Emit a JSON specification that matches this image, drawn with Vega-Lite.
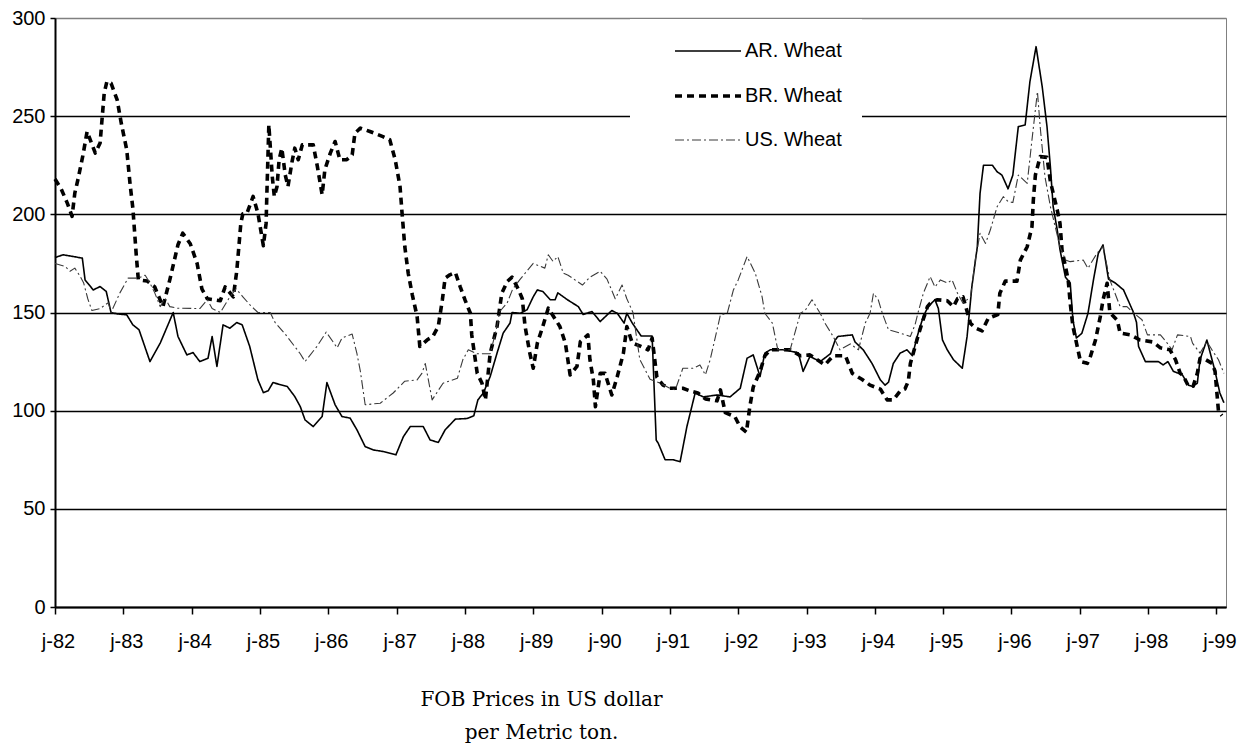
{
"$schema": "https://vega.github.io/schema/vega-lite/v6.json",
"width": 1171, "height": 589,
"autosize": {"type": "none"},
"padding": {"left": 55, "top": 18, "right": 25, "bottom": 143},
"background": "white",
"config": {
  "view": {"stroke": "#808080", "strokeWidth": 1},
  "font": "Liberation Sans",
  "axis": {"labelFont": "Liberation Sans", "labelFontSize": 20, "labelColor": "black", "domainColor": "black", "tickColor": "black"},
  "legend": {"orient": "none", "legendX": 575, "legendY": 1, "padding": 20, "fillColor": "white", "symbolType": "M-3,0H3", "symbolSize": 484, "symbolOffset": 45, "labelOffset": 24, "rowPadding": 22, "labelFont": "Liberation Sans", "labelFontSize": 20, "labelColor": "black", "labelExpr": "datum.label + '_____'", "labelLimit": 200}
},
"datasets": {"d": [
{"s":"AR. Wheat","t":1982.00,"v":178},{"s":"AR. Wheat","t":1982.12,"v":179.4},{"s":"AR. Wheat","t":1982.40,"v":177.7},{"s":"AR. Wheat","t":1982.44,"v":166.6},{"s":"AR. Wheat","t":1982.56,"v":161.5},{"s":"AR. Wheat","t":1982.66,"v":163.2},{"s":"AR. Wheat","t":1982.75,"v":160.7},{"s":"AR. Wheat","t":1982.82,"v":150},{"s":"AR. Wheat","t":1982.91,"v":149.3},{"s":"AR. Wheat","t":1983.05,"v":148.8},{"s":"AR. Wheat","t":1983.14,"v":143.7},{"s":"AR. Wheat","t":1983.23,"v":141.2},{"s":"AR. Wheat","t":1983.39,"v":125},{"s":"AR. Wheat","t":1983.54,"v":134.4},{"s":"AR. Wheat","t":1983.73,"v":150},{"s":"AR. Wheat","t":1983.80,"v":137.8},{"s":"AR. Wheat","t":1983.93,"v":128.4},{"s":"AR. Wheat","t":1984.02,"v":129.6},{"s":"AR. Wheat","t":1984.12,"v":125},{"s":"AR. Wheat","t":1984.24,"v":126.7},{"s":"AR. Wheat","t":1984.30,"v":137.8},{"s":"AR. Wheat","t":1984.37,"v":122.5},{"s":"AR. Wheat","t":1984.46,"v":143.7},{"s":"AR. Wheat","t":1984.56,"v":142},{"s":"AR. Wheat","t":1984.66,"v":144.9},{"s":"AR. Wheat","t":1984.74,"v":143.7},{"s":"AR. Wheat","t":1984.85,"v":132.7},{"s":"AR. Wheat","t":1984.97,"v":115.7},{"s":"AR. Wheat","t":1985.05,"v":109.2},{"s":"AR. Wheat","t":1985.12,"v":110.1},{"s":"AR. Wheat","t":1985.19,"v":114.3},{"s":"AR. Wheat","t":1985.40,"v":112.3},{"s":"AR. Wheat","t":1985.51,"v":107.2},{"s":"AR. Wheat","t":1985.59,"v":102.1},{"s":"AR. Wheat","t":1985.66,"v":95.3},{"s":"AR. Wheat","t":1985.78,"v":91.9},{"s":"AR. Wheat","t":1985.91,"v":97},{"s":"AR. Wheat","t":1985.98,"v":114.3},{"s":"AR. Wheat","t":1986.10,"v":103},{"s":"AR. Wheat","t":1986.20,"v":97},{"s":"AR. Wheat","t":1986.32,"v":96.2},{"s":"AR. Wheat","t":1986.42,"v":90.2},{"s":"AR. Wheat","t":1986.54,"v":81.7},{"s":"AR. Wheat","t":1986.66,"v":80},{"s":"AR. Wheat","t":1986.80,"v":79.2},{"s":"AR. Wheat","t":1986.99,"v":77.5},{"s":"AR. Wheat","t":1987.10,"v":86.8},{"s":"AR. Wheat","t":1987.20,"v":91.9},{"s":"AR. Wheat","t":1987.39,"v":91.9},{"s":"AR. Wheat","t":1987.49,"v":85.1},{"s":"AR. Wheat","t":1987.61,"v":83.8},{"s":"AR. Wheat","t":1987.71,"v":90.2},{"s":"AR. Wheat","t":1987.86,"v":95.7},{"s":"AR. Wheat","t":1988.03,"v":96},{"s":"AR. Wheat","t":1988.13,"v":97.4},{"s":"AR. Wheat","t":1988.19,"v":105.5},{"s":"AR. Wheat","t":1988.27,"v":109},{"s":"AR. Wheat","t":1988.37,"v":117.4},{"s":"AR. Wheat","t":1988.47,"v":129.3},{"s":"AR. Wheat","t":1988.56,"v":139.5},{"s":"AR. Wheat","t":1988.66,"v":144.6},{"s":"AR. Wheat","t":1988.69,"v":150},{"s":"AR. Wheat","t":1988.81,"v":149.6},{"s":"AR. Wheat","t":1988.91,"v":151.4},{"s":"AR. Wheat","t":1989.00,"v":158},{"s":"AR. Wheat","t":1989.06,"v":161.5},{"s":"AR. Wheat","t":1989.14,"v":160.7},{"s":"AR. Wheat","t":1989.25,"v":156.5},{"s":"AR. Wheat","t":1989.32,"v":156.5},{"s":"AR. Wheat","t":1989.36,"v":160},{"s":"AR. Wheat","t":1989.50,"v":156.5},{"s":"AR. Wheat","t":1989.66,"v":153},{"s":"AR. Wheat","t":1989.73,"v":149},{"s":"AR. Wheat","t":1989.86,"v":150.5},{"s":"AR. Wheat","t":1989.98,"v":145.4},{"s":"AR. Wheat","t":1990.15,"v":151},{"s":"AR. Wheat","t":1990.23,"v":149.6},{"s":"AR. Wheat","t":1990.33,"v":144.6},{"s":"AR. Wheat","t":1990.37,"v":149.6},{"s":"AR. Wheat","t":1990.45,"v":144.6},{"s":"AR. Wheat","t":1990.58,"v":138},{"s":"AR. Wheat","t":1990.74,"v":138},{"s":"AR. Wheat","t":1990.80,"v":85},{"s":"AR. Wheat","t":1990.83,"v":83.4},{"s":"AR. Wheat","t":1990.93,"v":75},{"s":"AR. Wheat","t":1991.05,"v":75},{"s":"AR. Wheat","t":1991.15,"v":74},{"s":"AR. Wheat","t":1991.25,"v":92},{"s":"AR. Wheat","t":1991.37,"v":109},{"s":"AR. Wheat","t":1991.49,"v":107},{"s":"AR. Wheat","t":1991.69,"v":108},{"s":"AR. Wheat","t":1991.88,"v":107},{"s":"AR. Wheat","t":1992.03,"v":111.4},{"s":"AR. Wheat","t":1992.13,"v":126.7},{"s":"AR. Wheat","t":1992.22,"v":128.4},{"s":"AR. Wheat","t":1992.32,"v":117.4},{"s":"AR. Wheat","t":1992.39,"v":129.3},{"s":"AR. Wheat","t":1992.47,"v":131},{"s":"AR. Wheat","t":1992.66,"v":131},{"s":"AR. Wheat","t":1992.88,"v":129.5},{"s":"AR. Wheat","t":1992.95,"v":120},{"s":"AR. Wheat","t":1993.05,"v":127.6},{"s":"AR. Wheat","t":1993.20,"v":125},{"s":"AR. Wheat","t":1993.35,"v":129},{"s":"AR. Wheat","t":1993.42,"v":136},{"s":"AR. Wheat","t":1993.46,"v":137.8},{"s":"AR. Wheat","t":1993.67,"v":138.6},{"s":"AR. Wheat","t":1993.71,"v":135},{"s":"AR. Wheat","t":1993.83,"v":131},{"s":"AR. Wheat","t":1993.96,"v":124},{"s":"AR. Wheat","t":1994.08,"v":115.7},{"s":"AR. Wheat","t":1994.15,"v":113},{"s":"AR. Wheat","t":1994.20,"v":114.5},{"s":"AR. Wheat","t":1994.27,"v":124},{"s":"AR. Wheat","t":1994.37,"v":129.3},{"s":"AR. Wheat","t":1994.47,"v":131},{"s":"AR. Wheat","t":1994.55,"v":128},{"s":"AR. Wheat","t":1994.62,"v":137.8},{"s":"AR. Wheat","t":1994.71,"v":148},{"s":"AR. Wheat","t":1994.78,"v":153},{"s":"AR. Wheat","t":1994.88,"v":156.5},{"s":"AR. Wheat","t":1994.93,"v":152},{"s":"AR. Wheat","t":1994.99,"v":136},{"s":"AR. Wheat","t":1995.06,"v":131},{"s":"AR. Wheat","t":1995.15,"v":126},{"s":"AR. Wheat","t":1995.28,"v":121.6},{"s":"AR. Wheat","t":1995.35,"v":137.7},{"s":"AR. Wheat","t":1995.42,"v":163},{"s":"AR. Wheat","t":1995.50,"v":183.5},{"s":"AR. Wheat","t":1995.54,"v":210.7},{"s":"AR. Wheat","t":1995.59,"v":225},{"s":"AR. Wheat","t":1995.72,"v":225},{"s":"AR. Wheat","t":1995.79,"v":221.7},{"s":"AR. Wheat","t":1995.86,"v":220},{"s":"AR. Wheat","t":1995.95,"v":213},{"s":"AR. Wheat","t":1996.02,"v":220},{"s":"AR. Wheat","t":1996.10,"v":244.7},{"s":"AR. Wheat","t":1996.20,"v":245.5},{"s":"AR. Wheat","t":1996.27,"v":267.6},{"s":"AR. Wheat","t":1996.36,"v":285.4},{"s":"AR. Wheat","t":1996.45,"v":265},{"s":"AR. Wheat","t":1996.52,"v":244.7},{"s":"AR. Wheat","t":1996.57,"v":224},{"s":"AR. Wheat","t":1996.61,"v":204},{"s":"AR. Wheat","t":1996.67,"v":192},{"s":"AR. Wheat","t":1996.71,"v":182},{"s":"AR. Wheat","t":1996.79,"v":168},{"s":"AR. Wheat","t":1996.86,"v":165},{"s":"AR. Wheat","t":1996.90,"v":146},{"s":"AR. Wheat","t":1996.95,"v":137},{"s":"AR. Wheat","t":1997.03,"v":139.4},{"s":"AR. Wheat","t":1997.12,"v":149.6},{"s":"AR. Wheat","t":1997.20,"v":166.6},{"s":"AR. Wheat","t":1997.27,"v":180},{"s":"AR. Wheat","t":1997.34,"v":184.4},{"s":"AR. Wheat","t":1997.42,"v":167},{"s":"AR. Wheat","t":1997.52,"v":165},{"s":"AR. Wheat","t":1997.64,"v":161.5},{"s":"AR. Wheat","t":1997.78,"v":150.5},{"s":"AR. Wheat","t":1997.83,"v":145},{"s":"AR. Wheat","t":1997.86,"v":132.7},{"s":"AR. Wheat","t":1997.96,"v":125},{"s":"AR. Wheat","t":1998.15,"v":125},{"s":"AR. Wheat","t":1998.22,"v":123.3},{"s":"AR. Wheat","t":1998.29,"v":125},{"s":"AR. Wheat","t":1998.37,"v":120},{"s":"AR. Wheat","t":1998.50,"v":118.3},{"s":"AR. Wheat","t":1998.59,"v":113},{"s":"AR. Wheat","t":1998.65,"v":112.3},{"s":"AR. Wheat","t":1998.72,"v":114},{"s":"AR. Wheat","t":1998.76,"v":126},{"s":"AR. Wheat","t":1998.81,"v":131},{"s":"AR. Wheat","t":1998.86,"v":136},{"s":"AR. Wheat","t":1998.92,"v":128},{"s":"AR. Wheat","t":1998.98,"v":120},{"s":"AR. Wheat","t":1999.05,"v":109},{"s":"AR. Wheat","t":1999.11,"v":104},
{"s":"BR. Wheat","t":1982.00,"v":218},{"s":"BR. Wheat","t":1982.09,"v":213},{"s":"BR. Wheat","t":1982.18,"v":205.7},{"s":"BR. Wheat","t":1982.25,"v":199},{"s":"BR. Wheat","t":1982.29,"v":210.8},{"s":"BR. Wheat","t":1982.34,"v":218.4},{"s":"BR. Wheat","t":1982.41,"v":230.3},{"s":"BR. Wheat","t":1982.47,"v":242.2},{"s":"BR. Wheat","t":1982.59,"v":231.2},{"s":"BR. Wheat","t":1982.66,"v":236.3},{"s":"BR. Wheat","t":1982.72,"v":261.7},{"s":"BR. Wheat","t":1982.76,"v":267.7},{"s":"BR. Wheat","t":1982.82,"v":266.8},{"s":"BR. Wheat","t":1982.91,"v":258.3},{"s":"BR. Wheat","t":1982.97,"v":246.4},{"s":"BR. Wheat","t":1983.05,"v":232.9},{"s":"BR. Wheat","t":1983.10,"v":215},{"s":"BR. Wheat","t":1983.14,"v":203},{"s":"BR. Wheat","t":1983.19,"v":179},{"s":"BR. Wheat","t":1983.22,"v":166.6},{"s":"BR. Wheat","t":1983.35,"v":166},{"s":"BR. Wheat","t":1983.46,"v":163},{"s":"BR. Wheat","t":1983.58,"v":153},{"s":"BR. Wheat","t":1983.68,"v":166.6},{"s":"BR. Wheat","t":1983.80,"v":184.5},{"s":"BR. Wheat","t":1983.87,"v":190.4},{"s":"BR. Wheat","t":1983.98,"v":185},{"s":"BR. Wheat","t":1984.08,"v":175},{"s":"BR. Wheat","t":1984.15,"v":162},{"s":"BR. Wheat","t":1984.23,"v":157},{"s":"BR. Wheat","t":1984.42,"v":156},{"s":"BR. Wheat","t":1984.49,"v":163},{"s":"BR. Wheat","t":1984.61,"v":158},{"s":"BR. Wheat","t":1984.66,"v":171},{"s":"BR. Wheat","t":1984.69,"v":183},{"s":"BR. Wheat","t":1984.72,"v":195.5},{"s":"BR. Wheat","t":1984.75,"v":200.3},{"s":"BR. Wheat","t":1984.81,"v":200.6},{"s":"BR. Wheat","t":1984.90,"v":209.1},{"s":"BR. Wheat","t":1984.97,"v":200.6},{"s":"BR. Wheat","t":1985.05,"v":184},{"s":"BR. Wheat","t":1985.09,"v":195.5},{"s":"BR. Wheat","t":1985.10,"v":209},{"s":"BR. Wheat","t":1985.13,"v":245.6},{"s":"BR. Wheat","t":1985.18,"v":219.3},{"s":"BR. Wheat","t":1985.21,"v":209.1},{"s":"BR. Wheat","t":1985.25,"v":214.2},{"s":"BR. Wheat","t":1985.28,"v":227.8},{"s":"BR. Wheat","t":1985.32,"v":233.7},{"s":"BR. Wheat","t":1985.37,"v":220.1},{"s":"BR. Wheat","t":1985.41,"v":214.2},{"s":"BR. Wheat","t":1985.47,"v":226.9},{"s":"BR. Wheat","t":1985.51,"v":233.7},{"s":"BR. Wheat","t":1985.56,"v":227.8},{"s":"BR. Wheat","t":1985.62,"v":235.4},{"s":"BR. Wheat","t":1985.78,"v":235.4},{"s":"BR. Wheat","t":1985.84,"v":224.4},{"s":"BR. Wheat","t":1985.91,"v":210},{"s":"BR. Wheat","t":1985.95,"v":222.7},{"s":"BR. Wheat","t":1986.03,"v":231.2},{"s":"BR. Wheat","t":1986.10,"v":237.1},{"s":"BR. Wheat","t":1986.17,"v":227.8},{"s":"BR. Wheat","t":1986.27,"v":227.8},{"s":"BR. Wheat","t":1986.35,"v":230.3},{"s":"BR. Wheat","t":1986.39,"v":241.3},{"s":"BR. Wheat","t":1986.47,"v":243.9},{"s":"BR. Wheat","t":1986.61,"v":242.2},{"s":"BR. Wheat","t":1986.80,"v":239.6},{"s":"BR. Wheat","t":1986.90,"v":238},{"s":"BR. Wheat","t":1986.98,"v":227.8},{"s":"BR. Wheat","t":1987.05,"v":214.2},{"s":"BR. Wheat","t":1987.08,"v":200.6},{"s":"BR. Wheat","t":1987.12,"v":183.6},{"s":"BR. Wheat","t":1987.17,"v":170},{"s":"BR. Wheat","t":1987.23,"v":159},{"s":"BR. Wheat","t":1987.30,"v":148},{"s":"BR. Wheat","t":1987.34,"v":132.7},{"s":"BR. Wheat","t":1987.45,"v":136.1},{"s":"BR. Wheat","t":1987.53,"v":137.8},{"s":"BR. Wheat","t":1987.61,"v":142.9},{"s":"BR. Wheat","t":1987.67,"v":156.5},{"s":"BR. Wheat","t":1987.71,"v":167.5},{"s":"BR. Wheat","t":1987.78,"v":169.2},{"s":"BR. Wheat","t":1987.86,"v":170.4},{"s":"BR. Wheat","t":1987.93,"v":163.2},{"s":"BR. Wheat","t":1988.00,"v":156.5},{"s":"BR. Wheat","t":1988.08,"v":149.6},{"s":"BR. Wheat","t":1988.10,"v":138.6},{"s":"BR. Wheat","t":1988.18,"v":119},{"s":"BR. Wheat","t":1988.25,"v":114},{"s":"BR. Wheat","t":1988.30,"v":105.5},{"s":"BR. Wheat","t":1988.34,"v":119},{"s":"BR. Wheat","t":1988.37,"v":129.3},{"s":"BR. Wheat","t":1988.47,"v":142.9},{"s":"BR. Wheat","t":1988.54,"v":159.8},{"s":"BR. Wheat","t":1988.62,"v":165.8},{"s":"BR. Wheat","t":1988.69,"v":168},{"s":"BR. Wheat","t":1988.78,"v":162},{"s":"BR. Wheat","t":1988.84,"v":157},{"s":"BR. Wheat","t":1988.88,"v":143},{"s":"BR. Wheat","t":1988.95,"v":129.3},{"s":"BR. Wheat","t":1989.00,"v":121.6},{"s":"BR. Wheat","t":1989.06,"v":134.4},{"s":"BR. Wheat","t":1989.14,"v":142.9},{"s":"BR. Wheat","t":1989.22,"v":152.2},{"s":"BR. Wheat","t":1989.39,"v":142.9},{"s":"BR. Wheat","t":1989.47,"v":134.4},{"s":"BR. Wheat","t":1989.54,"v":118.2},{"s":"BR. Wheat","t":1989.64,"v":122.5},{"s":"BR. Wheat","t":1989.69,"v":135.2},{"s":"BR. Wheat","t":1989.80,"v":138.6},{"s":"BR. Wheat","t":1989.83,"v":125.9},{"s":"BR. Wheat","t":1989.88,"v":115.7},{"s":"BR. Wheat","t":1989.91,"v":102},{"s":"BR. Wheat","t":1989.98,"v":119},{"s":"BR. Wheat","t":1990.05,"v":119},{"s":"BR. Wheat","t":1990.15,"v":108},{"s":"BR. Wheat","t":1990.23,"v":117.4},{"s":"BR. Wheat","t":1990.32,"v":129.3},{"s":"BR. Wheat","t":1990.37,"v":142.9},{"s":"BR. Wheat","t":1990.45,"v":134.4},{"s":"BR. Wheat","t":1990.56,"v":133},{"s":"BR. Wheat","t":1990.68,"v":131},{"s":"BR. Wheat","t":1990.74,"v":137},{"s":"BR. Wheat","t":1990.81,"v":117},{"s":"BR. Wheat","t":1990.90,"v":113},{"s":"BR. Wheat","t":1991.00,"v":111.4},{"s":"BR. Wheat","t":1991.19,"v":111.4},{"s":"BR. Wheat","t":1991.30,"v":110},{"s":"BR. Wheat","t":1991.41,"v":109},{"s":"BR. Wheat","t":1991.52,"v":106},{"s":"BR. Wheat","t":1991.69,"v":105},{"s":"BR. Wheat","t":1991.74,"v":110.6},{"s":"BR. Wheat","t":1991.81,"v":99},{"s":"BR. Wheat","t":1991.95,"v":97},{"s":"BR. Wheat","t":1992.03,"v":91.6},{"s":"BR. Wheat","t":1992.12,"v":89},{"s":"BR. Wheat","t":1992.17,"v":102},{"s":"BR. Wheat","t":1992.22,"v":112},{"s":"BR. Wheat","t":1992.32,"v":120},{"s":"BR. Wheat","t":1992.39,"v":128},{"s":"BR. Wheat","t":1992.47,"v":131},{"s":"BR. Wheat","t":1992.76,"v":131},{"s":"BR. Wheat","t":1992.91,"v":128},{"s":"BR. Wheat","t":1993.05,"v":128.4},{"s":"BR. Wheat","t":1993.27,"v":123.3},{"s":"BR. Wheat","t":1993.39,"v":128},{"s":"BR. Wheat","t":1993.57,"v":128},{"s":"BR. Wheat","t":1993.67,"v":119},{"s":"BR. Wheat","t":1993.81,"v":116},{"s":"BR. Wheat","t":1993.93,"v":113},{"s":"BR. Wheat","t":1994.08,"v":111},{"s":"BR. Wheat","t":1994.18,"v":105.5},{"s":"BR. Wheat","t":1994.27,"v":105.5},{"s":"BR. Wheat","t":1994.37,"v":110},{"s":"BR. Wheat","t":1994.44,"v":111},{"s":"BR. Wheat","t":1994.49,"v":115},{"s":"BR. Wheat","t":1994.52,"v":124},{"s":"BR. Wheat","t":1994.59,"v":132.7},{"s":"BR. Wheat","t":1994.63,"v":137.8},{"s":"BR. Wheat","t":1994.69,"v":144.6},{"s":"BR. Wheat","t":1994.77,"v":153},{"s":"BR. Wheat","t":1994.81,"v":154.7},{"s":"BR. Wheat","t":1994.91,"v":156.5},{"s":"BR. Wheat","t":1995.06,"v":156},{"s":"BR. Wheat","t":1995.15,"v":153},{"s":"BR. Wheat","t":1995.21,"v":157},{"s":"BR. Wheat","t":1995.29,"v":158},{"s":"BR. Wheat","t":1995.40,"v":144.5},{"s":"BR. Wheat","t":1995.48,"v":142},{"s":"BR. Wheat","t":1995.57,"v":140.6},{"s":"BR. Wheat","t":1995.66,"v":147},{"s":"BR. Wheat","t":1995.80,"v":149},{"s":"BR. Wheat","t":1995.83,"v":159.8},{"s":"BR. Wheat","t":1995.91,"v":166},{"s":"BR. Wheat","t":1996.08,"v":166},{"s":"BR. Wheat","t":1996.13,"v":176.7},{"s":"BR. Wheat","t":1996.23,"v":183.5},{"s":"BR. Wheat","t":1996.30,"v":193.7},{"s":"BR. Wheat","t":1996.32,"v":207.3},{"s":"BR. Wheat","t":1996.35,"v":220},{"s":"BR. Wheat","t":1996.42,"v":229.4},{"s":"BR. Wheat","t":1996.52,"v":229},{"s":"BR. Wheat","t":1996.57,"v":216.6},{"s":"BR. Wheat","t":1996.67,"v":202.2},{"s":"BR. Wheat","t":1996.71,"v":195.4},{"s":"BR. Wheat","t":1996.74,"v":181.8},{"s":"BR. Wheat","t":1996.83,"v":166.6},{"s":"BR. Wheat","t":1996.86,"v":154.7},{"s":"BR. Wheat","t":1996.90,"v":142.8},{"s":"BR. Wheat","t":1997.01,"v":125},{"s":"BR. Wheat","t":1997.11,"v":124.1},{"s":"BR. Wheat","t":1997.15,"v":127},{"s":"BR. Wheat","t":1997.23,"v":136},{"s":"BR. Wheat","t":1997.30,"v":147.9},{"s":"BR. Wheat","t":1997.34,"v":156.4},{"s":"BR. Wheat","t":1997.40,"v":164.9},{"s":"BR. Wheat","t":1997.44,"v":150},{"s":"BR. Wheat","t":1997.55,"v":146},{"s":"BR. Wheat","t":1997.59,"v":139.5},{"s":"BR. Wheat","t":1997.74,"v":138.6},{"s":"BR. Wheat","t":1997.88,"v":136},{"s":"BR. Wheat","t":1998.07,"v":135},{"s":"BR. Wheat","t":1998.18,"v":132},{"s":"BR. Wheat","t":1998.32,"v":131},{"s":"BR. Wheat","t":1998.40,"v":126},{"s":"BR. Wheat","t":1998.47,"v":119},{"s":"BR. Wheat","t":1998.51,"v":118},{"s":"BR. Wheat","t":1998.59,"v":112.5},{"s":"BR. Wheat","t":1998.66,"v":112.5},{"s":"BR. Wheat","t":1998.72,"v":119},{"s":"BR. Wheat","t":1998.76,"v":126.7},{"s":"BR. Wheat","t":1998.84,"v":126},{"s":"BR. Wheat","t":1998.94,"v":124},{"s":"BR. Wheat","t":1998.98,"v":120},{"s":"BR. Wheat","t":1999.03,"v":99.6},{"s":"BR. Wheat","t":1999.08,"v":97.5},
{"s":"US. Wheat","t":1982.00,"v":175},{"s":"US. Wheat","t":1982.15,"v":173.4},{"s":"US. Wheat","t":1982.22,"v":171},{"s":"US. Wheat","t":1982.29,"v":172.6},{"s":"US. Wheat","t":1982.37,"v":168.3},{"s":"US. Wheat","t":1982.42,"v":165},{"s":"US. Wheat","t":1982.48,"v":157},{"s":"US. Wheat","t":1982.54,"v":151},{"s":"US. Wheat","t":1982.66,"v":152},{"s":"US. Wheat","t":1982.78,"v":155},{"s":"US. Wheat","t":1982.82,"v":150},{"s":"US. Wheat","t":1982.95,"v":160},{"s":"US. Wheat","t":1983.07,"v":167.5},{"s":"US. Wheat","t":1983.22,"v":167.5},{"s":"US. Wheat","t":1983.32,"v":169},{"s":"US. Wheat","t":1983.39,"v":165},{"s":"US. Wheat","t":1983.46,"v":160},{"s":"US. Wheat","t":1983.54,"v":153},{"s":"US. Wheat","t":1983.61,"v":157.3},{"s":"US. Wheat","t":1983.68,"v":153},{"s":"US. Wheat","t":1983.79,"v":152.2},{"s":"US. Wheat","t":1984.12,"v":152},{"s":"US. Wheat","t":1984.23,"v":156.5},{"s":"US. Wheat","t":1984.30,"v":152},{"s":"US. Wheat","t":1984.42,"v":150},{"s":"US. Wheat","t":1984.56,"v":158},{"s":"US. Wheat","t":1984.65,"v":162},{"s":"US. Wheat","t":1984.75,"v":158},{"s":"US. Wheat","t":1984.85,"v":154},{"s":"US. Wheat","t":1984.97,"v":150},{"s":"US. Wheat","t":1985.15,"v":150},{"s":"US. Wheat","t":1985.22,"v":145},{"s":"US. Wheat","t":1985.37,"v":139},{"s":"US. Wheat","t":1985.59,"v":129},{"s":"US. Wheat","t":1985.66,"v":125},{"s":"US. Wheat","t":1985.84,"v":133},{"s":"US. Wheat","t":1985.97,"v":140},{"s":"US. Wheat","t":1986.13,"v":132},{"s":"US. Wheat","t":1986.20,"v":137},{"s":"US. Wheat","t":1986.35,"v":139},{"s":"US. Wheat","t":1986.42,"v":129},{"s":"US. Wheat","t":1986.47,"v":120},{"s":"US. Wheat","t":1986.54,"v":103},{"s":"US. Wheat","t":1986.76,"v":103.8},{"s":"US. Wheat","t":1986.95,"v":109},{"s":"US. Wheat","t":1987.12,"v":115},{"s":"US. Wheat","t":1987.30,"v":115.7},{"s":"US. Wheat","t":1987.37,"v":119},{"s":"US. Wheat","t":1987.42,"v":124},{"s":"US. Wheat","t":1987.52,"v":105.5},{"s":"US. Wheat","t":1987.68,"v":114},{"s":"US. Wheat","t":1987.89,"v":116.5},{"s":"US. Wheat","t":1987.97,"v":126},{"s":"US. Wheat","t":1988.05,"v":131},{"s":"US. Wheat","t":1988.18,"v":129},{"s":"US. Wheat","t":1988.37,"v":129},{"s":"US. Wheat","t":1988.47,"v":143},{"s":"US. Wheat","t":1988.51,"v":150.5},{"s":"US. Wheat","t":1988.62,"v":155},{"s":"US. Wheat","t":1988.70,"v":162},{"s":"US. Wheat","t":1988.81,"v":167},{"s":"US. Wheat","t":1989.00,"v":175},{"s":"US. Wheat","t":1989.17,"v":172.6},{"s":"US. Wheat","t":1989.22,"v":179.4},{"s":"US. Wheat","t":1989.29,"v":176},{"s":"US. Wheat","t":1989.36,"v":178.5},{"s":"US. Wheat","t":1989.44,"v":170},{"s":"US. Wheat","t":1989.51,"v":169},{"s":"US. Wheat","t":1989.72,"v":164},{"s":"US. Wheat","t":1989.83,"v":168},{"s":"US. Wheat","t":1989.98,"v":171},{"s":"US. Wheat","t":1990.08,"v":167},{"s":"US. Wheat","t":1990.20,"v":157},{"s":"US. Wheat","t":1990.30,"v":164},{"s":"US. Wheat","t":1990.37,"v":157},{"s":"US. Wheat","t":1990.46,"v":150},{"s":"US. Wheat","t":1990.56,"v":126},{"s":"US. Wheat","t":1990.71,"v":116},{"s":"US. Wheat","t":1990.86,"v":114},{"s":"US. Wheat","t":1991.00,"v":111.4},{"s":"US. Wheat","t":1991.08,"v":110.6},{"s":"US. Wheat","t":1991.19,"v":121.6},{"s":"US. Wheat","t":1991.34,"v":121.6},{"s":"US. Wheat","t":1991.44,"v":123.3},{"s":"US. Wheat","t":1991.52,"v":118.2},{"s":"US. Wheat","t":1991.59,"v":126},{"s":"US. Wheat","t":1991.74,"v":148.8},{"s":"US. Wheat","t":1991.84,"v":149.6},{"s":"US. Wheat","t":1991.93,"v":161.5},{"s":"US. Wheat","t":1992.00,"v":166.6},{"s":"US. Wheat","t":1992.13,"v":178.5},{"s":"US. Wheat","t":1992.25,"v":170},{"s":"US. Wheat","t":1992.35,"v":158},{"s":"US. Wheat","t":1992.39,"v":149.6},{"s":"US. Wheat","t":1992.50,"v":144.6},{"s":"US. Wheat","t":1992.58,"v":131},{"s":"US. Wheat","t":1992.76,"v":131},{"s":"US. Wheat","t":1992.91,"v":149.6},{"s":"US. Wheat","t":1992.98,"v":151},{"s":"US. Wheat","t":1993.08,"v":156.5},{"s":"US. Wheat","t":1993.20,"v":149.6},{"s":"US. Wheat","t":1993.27,"v":144.6},{"s":"US. Wheat","t":1993.39,"v":137.8},{"s":"US. Wheat","t":1993.49,"v":131},{"s":"US. Wheat","t":1993.64,"v":134},{"s":"US. Wheat","t":1993.76,"v":131},{"s":"US. Wheat","t":1993.86,"v":144.6},{"s":"US. Wheat","t":1993.93,"v":149.6},{"s":"US. Wheat","t":1993.98,"v":159.8},{"s":"US. Wheat","t":1994.05,"v":156.5},{"s":"US. Wheat","t":1994.11,"v":149.6},{"s":"US. Wheat","t":1994.20,"v":141.2},{"s":"US. Wheat","t":1994.37,"v":139.5},{"s":"US. Wheat","t":1994.52,"v":137.8},{"s":"US. Wheat","t":1994.59,"v":144},{"s":"US. Wheat","t":1994.63,"v":149.6},{"s":"US. Wheat","t":1994.71,"v":159.8},{"s":"US. Wheat","t":1994.81,"v":168.3},{"s":"US. Wheat","t":1994.88,"v":163},{"s":"US. Wheat","t":1994.96,"v":166.6},{"s":"US. Wheat","t":1995.06,"v":165},{"s":"US. Wheat","t":1995.13,"v":166.6},{"s":"US. Wheat","t":1995.21,"v":159.8},{"s":"US. Wheat","t":1995.29,"v":154.7},{"s":"US. Wheat","t":1995.40,"v":158},{"s":"US. Wheat","t":1995.47,"v":176.7},{"s":"US. Wheat","t":1995.54,"v":190.3},{"s":"US. Wheat","t":1995.62,"v":185.2},{"s":"US. Wheat","t":1995.69,"v":192},{"s":"US. Wheat","t":1995.79,"v":203.9},{"s":"US. Wheat","t":1995.88,"v":209},{"s":"US. Wheat","t":1995.95,"v":206.5},{"s":"US. Wheat","t":1996.02,"v":206},{"s":"US. Wheat","t":1996.10,"v":220},{"s":"US. Wheat","t":1996.23,"v":215.8},{"s":"US. Wheat","t":1996.30,"v":237.9},{"s":"US. Wheat","t":1996.38,"v":262.5},{"s":"US. Wheat","t":1996.42,"v":244.7},{"s":"US. Wheat","t":1996.49,"v":219.2},{"s":"US. Wheat","t":1996.57,"v":203.9},{"s":"US. Wheat","t":1996.64,"v":193.7},{"s":"US. Wheat","t":1996.71,"v":183.5},{"s":"US. Wheat","t":1996.79,"v":176.7},{"s":"US. Wheat","t":1996.86,"v":175.9},{"s":"US. Wheat","t":1997.05,"v":176.7},{"s":"US. Wheat","t":1997.12,"v":172.5},{"s":"US. Wheat","t":1997.25,"v":180.1},{"s":"US. Wheat","t":1997.34,"v":183.5},{"s":"US. Wheat","t":1997.44,"v":166.6},{"s":"US. Wheat","t":1997.59,"v":153},{"s":"US. Wheat","t":1997.69,"v":153},{"s":"US. Wheat","t":1997.78,"v":150},{"s":"US. Wheat","t":1997.91,"v":146.3},{"s":"US. Wheat","t":1997.99,"v":138.6},{"s":"US. Wheat","t":1998.18,"v":138.6},{"s":"US. Wheat","t":1998.28,"v":134.4},{"s":"US. Wheat","t":1998.35,"v":131},{"s":"US. Wheat","t":1998.43,"v":138.6},{"s":"US. Wheat","t":1998.62,"v":137.8},{"s":"US. Wheat","t":1998.65,"v":134.4},{"s":"US. Wheat","t":1998.76,"v":129.3},{"s":"US. Wheat","t":1998.86,"v":135.2},{"s":"US. Wheat","t":1998.95,"v":130.1},{"s":"US. Wheat","t":1999.03,"v":125.9},{"s":"US. Wheat","t":1999.11,"v":119}
]},
"data": {"name": "d"},
"mark": {"type": "line", "strokeJoin": "round"},
"encoding": {
  "x": {"field": "t", "type": "quantitative",
    "scale": {"domain": [1982, 1999.14], "nice": false, "zero": false},
    "axis": {"values": [1982,1983,1984,1985,1986,1987,1988,1989,1990,1991,1992,1993,1994,1995,1996,1997,1998,1999],
      "labelExpr": "'j-' + substring(toString(datum.value), 2, 4)",
      "grid": false, "tickSize": 7, "tickWidth": 1.5, "domainWidth": 2, "labelPadding": 17, "labelOffset": 3, "labelFlush": false, "labelOverlap": false,
      "title": ["FOB Prices in US dollar", "per Metric ton."],
      "titleFont": "DejaVu Serif", "titleFontSize": 20, "titleFontWeight": "normal", "titleColor": "black",
      "titleX": 486, "titleY": 82, "titleAlign": "center", "titleBaseline": "top", "titleLineHeight": 33}},
  "y": {"field": "v", "type": "quantitative",
    "scale": {"domain": [0, 300], "nice": false},
    "axis": {"values": [0,50,100,150,200,250,300], "title": null, "grid": true,
      "gridColor": {"condition": {"test": "datum.value === 300", "value": "#808080"}, "value": "black"},
      "gridWidth": 1.3, "tickSize": 5, "tickWidth": 1.5, "domainWidth": 2, "labelPadding": 5}},
  "color": {"field": "s", "type": "nominal", "scale": {"domain": ["AR. Wheat","BR. Wheat","US. Wheat"], "range": ["black","black","#3a3a3a"]}, "legend": {"title": null, "labelExpr": "datum.label + '\u2003\u2003\u2003'"}},
  "strokeDash": {"field": "s", "type": "nominal", "scale": {"domain": ["AR. Wheat","BR. Wheat","US. Wheat"], "range": [[1,0],[7,5],[9,3,2,3]]}, "legend": {"title": null, "labelExpr": "datum.label + '\u2003\u2003\u2003'"}},
  "strokeWidth": {"field": "s", "type": "nominal", "scale": {"type": "ordinal", "domain": ["AR. Wheat","BR. Wheat","US. Wheat"], "range": [1.6,3.6,1.1]}, "legend": {"title": null, "labelExpr": "datum.label + '\u2003\u2003\u2003'"}}
}
}
